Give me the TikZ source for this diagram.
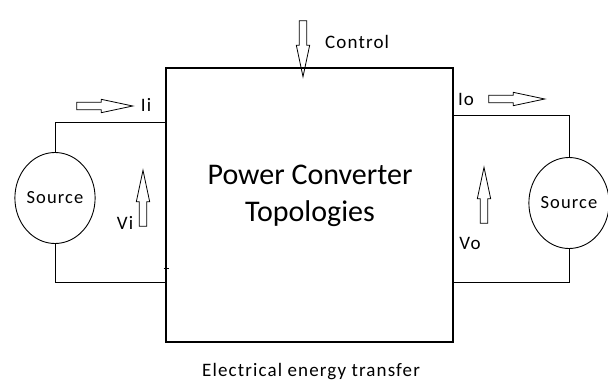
\documentclass[tikz,border=0pt]{standalone}
\usepackage{fontspec}
\setmainfont{Carlito}
\usetikzlibrary{shapes.geometric,shapes.arrows}

\begin{document}
\begin{tikzpicture}[x=1pt,y=-1pt,
  wire/.style={line width=1pt},
  box/.style={draw,line width=1.1pt,minimum width=287pt,minimum height=274pt,inner sep=0pt},
  src/.style={draw,ellipse,line width=0.9pt,minimum width=76pt,minimum height=91pt,inner sep=0pt,font=\fontsize{18.5}{20}\selectfont\addfontfeature{LetterSpace=6}},
  flow/.style={draw,single arrow,line width=0.8pt,inner sep=0pt,inner ysep=3.3pt,minimum height=56pt,single arrow head extend=3pt,single arrow tip angle=24},
  lbl/.style={inner sep=0pt,font=\fontsize{19}{22}\selectfont\addfontfeature{LetterSpace=6}}]
  \useasboundingbox (0,0) rectangle (608,383);
  \node[box] (conv) at (309.5,205) {};
  \node[align=center,font=\fontsize{30}{37}\selectfont] (name) at (310,196) {Power Converter\\Topologies};
  \node[src] (srcin) at (55,198) {Source};
  \node[src] (srcout) at (569,203) {Source};
  \coordinate (inTop) at (166,122);
  \coordinate (inBot) at (166,282);
  \coordinate (outTop) at (453,115);
  \coordinate (outBot) at (453,282);
  \draw[wire] (srcin.north) |- (inTop);
  \draw[wire] (srcin.south) |- (inBot);
  \draw[wire] (srcout.north) |- (outTop);
  \draw[wire] (srcout.south) |- (outBot);
  \draw[wire] (163.5,268) -- (168.5,268);
  \node[flow,rotate=-90] (ctrl) at (303,40) {};
  \node[lbl,anchor=west] (ctrltxt) at (325,42) {Control};
  \node[flow] (ii) at (96,106) {};
  \node[lbl] (iitxt) at (146,105) {Ii};
  \node[flow,rotate=90] (vi) at (143,207) {};
  \node[lbl] (vitxt) at (125,223) {Vi};
  \node[flow] (io) at (508,99) {};
  \node[lbl] (iotxt) at (466,99) {Io};
  \node[flow,rotate=90] (vo) at (484,204) {};
  \node[lbl] (votxt) at (470,243) {Vo};
  \node[lbl] (transfer) at (311,372) {Electrical energy transfer};
\end{tikzpicture}
\end{document}
